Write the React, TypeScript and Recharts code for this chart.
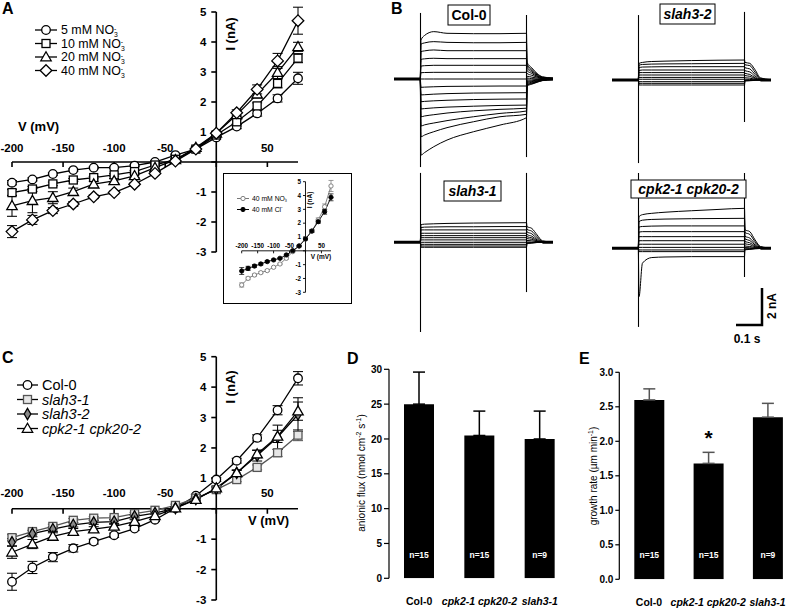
import React from "react";
import {
  LineChart,
  Line,
  BarChart,
  Bar,
  XAxis,
  YAxis,
  ReferenceLine,
  ReferenceDot,
  ErrorBar,
  LabelList,
} from "recharts";

const FONT = "'Liberation Sans', Arial, Helvetica, sans-serif";

// clamp steps (mV) shared by every I/V curve
const VOLTAGES = [-200, -180, -160, -140, -120, -100, -80, -60, -40, -20, 0, 20, 40, 60, 80];
const IV_X_TICKS = [-200, -150, -100, -50, 0, 50];
const IV_Y_TICKS = [-3, -2, -1, 0, 1, 2, 3, 4, 5];

// A: whole-cell currents (nA) with increasing external nitrate
const A_LABELS = ["5 mM", "10 mM", "20 mM", "40 mM"];
const A_NO3_5 = [-0.69, -0.58, -0.4, -0.27, -0.19, -0.19, -0.12, 0.0, 0.23, 0.43, 0.82, 1.18, 1.62, 2.12, 2.79];
const A_NO3_5_ERR = [0.07, 0.05, 0.04, 0.04, 0.03, 0.03, 0.03, 0.03, 0.03, 0.03, 0.05, 0.07, 0.09, 0.12, 0.2];
const A_NO3_10 = [-1.02, -0.9, -0.73, -0.6, -0.52, -0.43, -0.32, -0.1, 0.09, 0.43, 0.9, 1.34, 1.87, 2.62, 3.46];
const A_NO3_10_ERR = [0.1, 0.08, 0.06, 0.05, 0.04, 0.04, 0.04, 0.03, 0.03, 0.03, 0.05, 0.07, 0.1, 0.15, 0.15];
const A_NO3_20 = [-1.46, -1.29, -1.19, -0.99, -0.74, -0.63, -0.46, -0.19, 0.07, 0.48, 0.96, 1.57, 2.26, 2.98, 3.84];
const A_NO3_20_ERR = [0.35, 0.4, 0.2, 0.12, 0.1, 0.08, 0.06, 0.05, 0.04, 0.04, 0.06, 0.08, 0.12, 0.2, 0.15];
const A_NO3_40 = [-2.32, -1.93, -1.62, -1.4, -1.16, -1.02, -0.74, -0.38, 0.03, 0.43, 0.96, 1.64, 2.42, 3.37, 4.71];
const A_NO3_40_ERR = [0.2, 0.15, 0.1, 0.08, 0.06, 0.05, 0.05, 0.04, 0.04, 0.04, 0.06, 0.1, 0.15, 0.25, 0.45];

// A inset: nitrate vs chloride at 40 mM
const INSET_LABELS = ["40 mM NO", "40 mM Cl"];
const INSET_NO3 = [-2.47, -1.99, -1.75, -1.58, -1.43, -1.19, -0.95, -0.54, -0.06, 0.35, 0.86, 1.43, 2.23, 3.19, 4.69];
const INSET_NO3_ERR = [0.15, 0.1, 0.08, 0.07, 0.06, 0.05, 0.05, 0.05, 0.05, 0.05, 0.06, 0.1, 0.15, 0.2, 0.4];
const INSET_CL = [-1.46, -1.27, -1.1, -0.95, -0.78, -0.66, -0.54, -0.3, 0.01, 0.35, 0.86, 1.43, 2.11, 2.83, 3.87];
const INSET_CL_ERR = [0.25, 0.15, 0.1, 0.08, 0.07, 0.06, 0.05, 0.05, 0.05, 0.05, 0.06, 0.1, 0.12, 0.18, 0.25];

// C: genotypes
const C_LABELS = ["Col-0", "slah3-1", "slah3-2", "cpk2-1 cpk20-2"];
const C_COL0 = [-2.4, -1.93, -1.59, -1.3, -1.08, -0.87, -0.65, -0.36, 0.02, 0.43, 0.96, 1.58, 2.33, 3.24, 4.29];
const C_COL0_ERR = [0.28, 0.2, 0.15, 0.12, 0.08, 0.07, 0.06, 0.05, 0.04, 0.04, 0.06, 0.08, 0.1, 0.15, 0.22];
const C_SLAH31 = [-0.95, -0.75, -0.58, -0.38, -0.31, -0.29, -0.16, -0.05, 0.11, 0.35, 0.63, 0.96, 1.36, 1.84, 2.42];
const C_SLAH31_ERR = [0.1, 0.08, 0.07, 0.06, 0.05, 0.05, 0.04, 0.04, 0.04, 0.04, 0.05, 0.07, 0.08, 0.12, 0.18];
const C_SLAH32 = [-1.1, -0.82, -0.67, -0.53, -0.45, -0.42, -0.25, -0.14, 0.02, 0.32, 0.65, 1.18, 1.75, 2.35, 3.1];
const C_SLAH32_ERR = [0.12, 0.1, 0.08, 0.07, 0.06, 0.06, 0.05, 0.04, 0.04, 0.04, 0.06, 0.1, 0.18, 0.4, 0.55];
const C_CPK = [-1.43, -1.16, -0.91, -0.75, -0.67, -0.58, -0.42, -0.23, 0.02, 0.3, 0.68, 1.18, 1.8, 2.38, 3.21];
const C_CPK_ERR = [0.2, 0.15, 0.12, 0.1, 0.08, 0.07, 0.06, 0.05, 0.04, 0.04, 0.06, 0.08, 0.12, 0.2, 0.3];

// B: current traces (nA); sample times (s), first two are the holding period
const TRACE_TIMES = [-0.1, -0.001, 0.002, 0.015, 0.05, 0.1, 0.2, 0.3, 0.4, 0.402, 0.42, 0.44, 0.46, 0.5];
const HOLDING = [0, 0];
const COL0_TRACES = [
  [2.11, 2.35, 2.56, 2.47, 2.45, 2.45, 2.47, 0.9, 0.6, 0.3, 0.12, 0.05],
  [1.89, 1.95, 2.02, 1.98, 1.96, 1.96, 1.98, 0.8, 0.52, 0.26, 0.1, 0.04],
  [1.48, 1.52, 1.57, 1.53, 1.53, 1.53, 1.53, 0.7, 0.45, 0.22, 0.08, 0.03],
  [1.06, 1.09, 1.12, 1.1, 1.1, 1.1, 1.1, 0.58, 0.38, 0.18, 0.06, 0.02],
  [0.7, 0.72, 0.74, 0.74, 0.74, 0.74, 0.74, 0.45, 0.3, 0.14, 0.05, 0.02],
  [0.34, 0.35, 0.36, 0.36, 0.36, 0.36, 0.36, 0.3, 0.2, 0.1, 0.04, 0.01],
  [0, 0, 0, 0, 0, 0, 0, 0.15, 0.1, 0.05, 0.02, 0],
  [-0.45, -0.44, -0.42, -0.4, -0.39, -0.38, -0.38, 0.05, 0.02, 0, 0, 0],
  [-0.86, -0.85, -0.82, -0.79, -0.76, -0.75, -0.74, -0.05, -0.05, -0.03, -0.02, 0],
  [-1.23, -1.21, -1.18, -1.15, -1.11, -1.09, -1.08, -0.12, -0.1, -0.06, -0.03, -0.01],
  [-1.62, -1.6, -1.56, -1.52, -1.47, -1.43, -1.41, -0.18, -0.14, -0.09, -0.05, -0.02],
  [-2.04, -2.0, -1.93, -1.84, -1.72, -1.64, -1.58, -0.24, -0.18, -0.12, -0.06, -0.02],
  [-2.54, -2.48, -2.38, -2.25, -2.04, -1.86, -1.73, -0.3, -0.22, -0.14, -0.07, -0.03],
  [-3.12, -3.03, -2.85, -2.63, -2.31, -2.04, -1.91, -0.34, -0.25, -0.16, -0.08, -0.03],
  [-4.11, -3.98, -3.66, -3.3, -2.85, -2.49, -2.09, -0.38, -0.28, -0.18, -0.09, -0.04],
];
const SLAH32_TRACES = [
  [0.9, 0.95, 1.0, 1.02, 1.05, 1.07, 1.08, 0.95, 0.9, 0.55, 0.12, 0.02],
  [0.8, 0.84, 0.86, 0.87, 0.88, 0.89, 0.9, 0.82, 0.78, 0.42, 0.08, 0.01],
  [0.66, 0.7, 0.71, 0.72, 0.72, 0.72, 0.72, 0.66, 0.6, 0.3, 0.05, 0],
  [0.52, 0.54, 0.54, 0.54, 0.54, 0.54, 0.54, 0.5, 0.44, 0.2, 0.03, 0],
  [0.4, 0.4, 0.4, 0.4, 0.4, 0.4, 0.4, 0.36, 0.3, 0.12, 0.02, 0],
  [0.27, 0.27, 0.27, 0.27, 0.27, 0.27, 0.27, 0.24, 0.2, 0.08, 0.01, 0],
  [0.14, 0.14, 0.14, 0.14, 0.14, 0.14, 0.14, 0.12, 0.1, 0.04, 0, 0],
  [0.04, 0.04, 0.04, 0.04, 0.04, 0.04, 0.04, 0.04, 0.03, 0.01, 0, 0],
  [-0.09, -0.09, -0.09, -0.09, -0.09, -0.09, -0.09, -0.02, -0.02, 0, 0, 0],
  [-0.18, -0.18, -0.18, -0.18, -0.18, -0.18, -0.18, -0.04, -0.03, -0.01, 0, 0],
  [-0.27, -0.27, -0.27, -0.27, -0.27, -0.27, -0.27, -0.05, -0.04, -0.02, 0, 0],
];
const SLAH31_TRACES = [
  [0.95, 0.98, 1.0, 1.02, 1.04, 1.05, 1.06, 0.85, 0.75, 0.4, 0.08, 0],
  [0.8, 0.82, 0.83, 0.84, 0.84, 0.85, 0.85, 0.7, 0.6, 0.3, 0.05, 0],
  [0.67, 0.67, 0.67, 0.67, 0.67, 0.67, 0.67, 0.56, 0.46, 0.2, 0.03, 0],
  [0.49, 0.49, 0.49, 0.49, 0.49, 0.49, 0.49, 0.42, 0.33, 0.13, 0.02, 0],
  [0.36, 0.36, 0.36, 0.36, 0.36, 0.36, 0.36, 0.3, 0.24, 0.08, 0.01, 0],
  [0.25, 0.25, 0.25, 0.25, 0.25, 0.25, 0.25, 0.2, 0.16, 0.05, 0, 0],
  [0.13, 0.13, 0.13, 0.13, 0.13, 0.13, 0.13, 0.1, 0.08, 0.03, 0, 0],
  [0, 0, 0, 0, 0, 0, 0, 0.02, 0.01, 0, 0, 0],
  [-0.11, -0.11, -0.11, -0.11, -0.11, -0.11, -0.11, -0.03, -0.02, 0, 0, 0],
  [-0.2, -0.2, -0.2, -0.2, -0.2, -0.2, -0.2, -0.05, -0.03, -0.01, 0, 0],
  [-0.27, -0.27, -0.27, -0.27, -0.27, -0.27, -0.27, -0.06, -0.04, -0.01, 0, 0],
];
const CPK_TRACES = [
  [1.71, 1.82, 1.89, 1.95, 2.03, 2.1, 2.16, 1.0, 0.9, 0.45, 0.1, 0.01],
  [1.44, 1.52, 1.56, 1.58, 1.6, 1.61, 1.62, 0.85, 0.75, 0.35, 0.07, 0],
  [1.15, 1.18, 1.2, 1.21, 1.21, 1.21, 1.21, 0.65, 0.55, 0.25, 0.05, 0],
  [0.88, 0.9, 0.9, 0.9, 0.9, 0.9, 0.9, 0.5, 0.42, 0.18, 0.03, 0],
  [0.63, 0.63, 0.63, 0.63, 0.63, 0.63, 0.63, 0.36, 0.3, 0.12, 0.02, 0],
  [0.41, 0.41, 0.41, 0.41, 0.41, 0.41, 0.41, 0.24, 0.2, 0.08, 0.01, 0],
  [0.22, 0.22, 0.22, 0.22, 0.22, 0.22, 0.22, 0.12, 0.1, 0.04, 0, 0],
  [0.05, 0.05, 0.05, 0.05, 0.05, 0.05, 0.05, 0.04, 0.03, 0.01, 0, 0],
  [-0.09, -0.09, -0.09, -0.09, -0.09, -0.09, -0.09, -0.03, -0.02, 0, 0, 0],
  [-0.18, -0.18, -0.18, -0.18, -0.18, -0.18, -0.18, -0.05, -0.04, -0.01, 0, 0],
  [-2.61, -0.8, -0.5, -0.47, -0.45, -0.45, -0.45, -0.08, -0.06, -0.03, -0.01, 0],
];
// capacitive spikes at pulse on / off: [top, bottom] in nA
const COL0_CAP = [[3.57, -4.76], [3.46, -4.22]];
const SLAH32_CAP = [[3.51, -4.49], [3.68, -2.27]];
const SLAH31_CAP = [[3.75, -4.85], [3.75, -2.69]];
const CPK_CAP = [[4.07, -4.25], [4.07, -1.55]];

// D / E: bar charts (only the upper half of each error bar is shown)
const GENOTYPES = ["Col-0", "cpk2-1 cpk20-2", "slah3-1"];
const FLUX_MEAN = [25, 20.5, 20];
const FLUX_SEM = [4.6, 3.5, 4];
const FLUX_N = ["n=15", "n=15", "n=9"];
const GROWTH_MEAN = [2.6, 1.68, 2.35];
const GROWTH_SEM = [0.16, 0.16, 0.2];
const GROWTH_N = ["n=15", "n=15", "n=9"];
const GROWTH_SIG = ["", "*", ""];

function Marker({ shape, cx, cy, size = 1, fill = "#fff", stroke = "#000", sw = 1.2 }: any) {
  if (cx == null || cy == null) return null;
  const c = { fill, stroke, strokeWidth: sw };
  const s = size;
  if (shape === "circle") return <circle cx={cx} cy={cy} r={4.3 * s} {...c} />;
  if (shape === "dot") return <circle cx={cx} cy={cy} r={4.3 * s} {...c} />;
  if (shape === "square")
    return <rect x={cx - 4 * s} y={cy - 4 * s} width={8 * s} height={8 * s} {...c} />;
  if (shape === "triangle")
    return (
      <polygon
        points={`${cx},${cy - 5.3 * s} ${cx + 5.2 * s},${cy + 3.8 * s} ${cx - 5.2 * s},${cy + 3.8 * s}`}
        {...c}
      />
    );
  if (shape === "diamond")
    return (
      <polygon
        points={`${cx},${cy - 5.8 * s} ${cx + 5.8 * s},${cy} ${cx},${cy + 5.8 * s} ${cx - 5.8 * s},${cy}`}
        {...c}
      />
    );
  if (shape === "thinDiamond")
    return (
      <polygon
        points={`${cx},${cy - 5.6 * s} ${cx + 3.3 * s},${cy} ${cx},${cy + 5.6 * s} ${cx - 3.3 * s},${cy}`}
        {...c}
      />
    );
  return null;
}

const A_SERIES = [
  { key: "a5", values: A_NO3_5, err: A_NO3_5_ERR, shape: "circle" },
  { key: "a10", values: A_NO3_10, err: A_NO3_10_ERR, shape: "square" },
  { key: "a20", values: A_NO3_20, err: A_NO3_20_ERR, shape: "triangle" },
  { key: "a40", values: A_NO3_40, err: A_NO3_40_ERR, shape: "diamond" },
];
const INSET_SERIES = [
  { key: "no3", values: INSET_NO3, err: INSET_NO3_ERR, shape: "circle", stroke: "#777", fill: "#fff" },
  { key: "cl", values: INSET_CL, err: INSET_CL_ERR, shape: "dot", stroke: "#000", fill: "#000" },
];
const C_SERIES = [
  { key: "col", values: C_COL0, err: C_COL0_ERR, shape: "circle" },
  { key: "s31", values: C_SLAH31, err: C_SLAH31_ERR, shape: "square", stroke: "#555", fill: "#e6e6e6" },
  { key: "s32", values: C_SLAH32, err: C_SLAH32_ERR, shape: "thinDiamond", fill: "#888" },
  { key: "cpk", values: C_CPK, err: C_CPK_ERR, shape: "triangle" },
];

function IVPlot({ left, top, width, height, x200, x80, y5, ym3, series, font, tickLen, xGap, yGap, axisW, lineW, ms, errW }: any) {
  const kx = (x80 - x200) / 280;
  const ky = (ym3 - y5) / 8;
  const padX = 10;
  const padY = 0.35;
  const margin = {
    left: x200 - padX * kx - left,
    right: left + width - (x80 + padX * kx),
    top: y5 - padY * ky - top,
    bottom: top + height - (ym3 + padY * ky),
  };
  const data = VOLTAGES.map((v, i) => {
    const row: any = { v };
    series.forEach((s: any) => {
      row[s.key] = s.values[i];
      row[s.key + "E"] = s.err[i];
    });
    return row;
  });
  return (
    <div style={{ position: "absolute", left, top }}>
      <LineChart width={width} height={height} data={data} margin={margin}>
        <XAxis dataKey="v" type="number" domain={[-200 - padX, 80 + padX]} hide />
        <YAxis type="number" domain={[-3 - padY, 5 + padY]} hide />
        <ReferenceLine segment={[{ x: -200, y: 0 }, { x: 80, y: 0 }]} stroke="#000" strokeWidth={axisW} />
        <ReferenceLine segment={[{ x: 0, y: -3 }, { x: 0, y: 5 }]} stroke="#000" strokeWidth={axisW} />
        {IV_X_TICKS.map((t) => (
          <ReferenceDot
            key={"xt" + t}
            x={t}
            y={0}
            r={0}
            shape={(p: any) => (
              <g>
                <line x1={p.cx} y1={p.cy} x2={p.cx} y2={p.cy + tickLen} stroke="#000" strokeWidth={axisW} />
                {t !== 0 && (
                  <text x={p.cx} y={p.cy - xGap} textAnchor="middle" fontSize={font} fontWeight="bold" fontFamily={FONT}>
                    {t}
                  </text>
                )}
              </g>
            )}
          />
        ))}
        {IV_Y_TICKS.map((t) => (
          <ReferenceDot
            key={"yt" + t}
            x={0}
            y={t}
            r={0}
            shape={(p: any) => (
              <g>
                <line x1={p.cx - tickLen} y1={p.cy} x2={p.cx} y2={p.cy} stroke="#000" strokeWidth={axisW} />
                {t !== 0 && (
                  <text x={p.cx - yGap} y={p.cy + font * 0.36} textAnchor="end" fontSize={font} fontWeight="bold" fontFamily={FONT}>
                    {t}
                  </text>
                )}
              </g>
            )}
          />
        ))}
        {series.map((s: any) => (
          <Line
            key={s.key}
            dataKey={s.key}
            type="linear"
            stroke={s.stroke || "#000"}
            strokeWidth={lineW}
            isAnimationActive={false}
            dot={(p: any) => (
              <Marker
                key={s.key + p.index}
                shape={s.shape}
                cx={p.cx}
                cy={p.cy}
                size={ms}
                fill={s.fill || "#fff"}
                stroke={s.stroke || "#000"}
                sw={lineW}
              />
            )}
          >
            <ErrorBar dataKey={s.key + "E"} direction="y" width={errW} stroke={s.stroke || "#000"} strokeWidth={lineW * 0.8} />
          </Line>
        ))}
      </LineChart>
    </div>
  );
}

function TracePanel({ left, top, height, baseline, traces, cap }: any) {
  const pxPerS = 265;
  const pxPerNA = 18.5;
  const width = 0.6 * pxPerS;
  const yMax = (baseline - top) / pxPerNA;
  const yMin = -(top + height - baseline) / pxPerNA;
  const data = TRACE_TIMES.map((t, i) => {
    const row: any = { t, hold: i < 2 || i >= 12 ? 0 : null };
    traces.forEach((tr: number[], k: number) => {
      row["s" + k] = i < 2 ? HOLDING[i] : tr[i - 2];
    });
    return row;
  });
  return (
    <div style={{ position: "absolute", left, top }}>
      <LineChart width={width} height={height} data={data} margin={{ top: 0, right: 0, bottom: 0, left: 0 }}>
        <XAxis dataKey="t" type="number" domain={[-0.1, 0.5]} hide allowDataOverflow />
        <YAxis type="number" domain={[yMin, yMax]} hide allowDataOverflow />
        <ReferenceLine segment={[{ x: 0, y: cap[0][0] }, { x: 0, y: cap[0][1] }]} stroke="#000" strokeWidth={1.1} />
        <ReferenceLine segment={[{ x: 0.4, y: cap[1][0] }, { x: 0.4, y: cap[1][1] }]} stroke="#000" strokeWidth={1.1} />
        {traces.map((_: any, k: number) => (
          <Line
            key={k}
            dataKey={"s" + k}
            type="monotone"
            stroke="#000"
            strokeWidth={1}
            dot={false}
            isAnimationActive={false}
          />
        ))}
        <Line dataKey="hold" type="linear" stroke="#000" strokeWidth={3} dot={false} isAnimationActive={false} />
      </LineChart>
    </div>
  );
}

function CategoryTick(props: any) {
  const { x, y, payload } = props;
  const italic = payload.value !== "Col-0";
  return (
    <text
      x={x}
      y={y + 19}
      textAnchor="middle"
      fontSize={10.5}
      fontWeight="bold"
      fontStyle={italic ? "italic" : "normal"}
      fontFamily={FONT}
      fill="#000"
    >
      {payload.value}
    </text>
  );
}

function BarPanel({ left, top, data, yWidth, marginTop, marginRight, xHeight, domain, ticks, fmt, errColor, tickSize, tickMargin, nOffset }: any) {
  return (
    <div style={{ position: "absolute", left, top }}>
      <BarChart width={240} height={269} data={data} margin={{ top: marginTop, right: marginRight, bottom: 0, left: 0 }}>
        <XAxis dataKey="g" height={xHeight} axisLine={false} tickLine={false} interval={0} tick={<CategoryTick />} />
        <YAxis
          width={yWidth}
          domain={domain}
          ticks={ticks}
          allowDataOverflow
          tickFormatter={fmt}
          tickSize={tickSize}
          tickMargin={tickMargin}
          axisLine={{ stroke: "#000", strokeWidth: 1.2 }}
          tickLine={{ stroke: "#000", strokeWidth: 1.2 }}
          tick={{ fontSize: 10, fontWeight: "bold", fill: "#000", fontFamily: FONT }}
        />
        <Bar dataKey="mean" fill="#000" barSize={30} isAnimationActive={false}>
          <ErrorBar dataKey="sem" direction="y" width={6} stroke={errColor} strokeWidth={1.5} />
          <LabelList dataKey="n" position="insideBottom" offset={nOffset} fill="#fff" fontSize={8.5} fontWeight="bold" fontFamily={FONT} />
          <LabelList dataKey="sig" position="top" offset={18} fill="#000" fontSize={21} fontWeight="bold" fontFamily={FONT} />
        </Bar>
      </BarChart>
    </div>
  );
}

function No3({ size }: any) {
  return (
    <>
      <tspan dy={size * 0.22} fontSize={size * 0.55}>3</tspan>
      <tspan dx={-size * 0.31} dy={-size * 0.52} fontSize={size * 0.55}>-</tspan>
    </>
  );
}

function Overlay() {
  const bold = { fontFamily: FONT, fontWeight: "bold" as const, fill: "#000" };
  const aRows = [30, 43.5, 57, 70.5];
  const cRows = [385, 399.5, 414, 428.5];
  return (
    <svg width={790} height={609} style={{ position: "absolute", left: 0, top: 0, pointerEvents: "none" }}>
      {/* panel letters */}
      <text x={2} y={14} fontSize={16} {...bold}>A</text>
      <text x={391} y={14} fontSize={16} {...bold}>B</text>
      <text x={2} y={363} fontSize={16} {...bold}>C</text>
      <text x={347} y={364} fontSize={16} {...bold}>D</text>
      <text x={579} y={364} fontSize={16} {...bold}>E</text>

      {/* A axis titles and legend */}
      <text x={18} y={131} fontSize={13} {...bold}>V (mV)</text>
      <text transform="translate(235,34) rotate(-90)" textAnchor="middle" fontSize={13} {...bold}>I (nA)</text>
      {A_SERIES.map((s, i) => (
        <g key={s.key}>
          <line x1={35} x2={57} y1={aRows[i]} y2={aRows[i]} stroke="#000" strokeWidth={1.3} />
          <Marker shape={s.shape} cx={46} cy={aRows[i]} sw={1.3} />
          <text x={61} y={aRows[i] + 4.4} fontSize={12.4} fontFamily={FONT} fill="#000">
            {A_LABELS[i]} NO
            <No3 size={12.4} />
          </text>
        </g>
      ))}

      {/* inset labels */}
      <text x={321} y={259} textAnchor="middle" fontSize={6.5} {...bold}>V (mV)</text>
      <text transform="translate(312,200) rotate(-90)" textAnchor="middle" fontSize={6.5} {...bold}>I (nA)</text>
      {INSET_SERIES.map((s, i) => {
        const y = [198.5, 209.5][i];
        return (
          <g key={s.key}>
            <line x1={237} x2={249} y1={y} y2={y} stroke={s.stroke} strokeWidth={1} />
            <Marker shape={s.shape} cx={243} cy={y} size={0.5} fill={s.fill} stroke={s.stroke} sw={0.9} />
            <text x={252} y={y + 2.4} fontSize={6.8} fontFamily={FONT} fill="#000">
              {INSET_LABELS[i]}
              {i === 0 ? <No3 size={6.8} /> : <tspan dy={-2.8} fontSize={4.8}>-</tspan>}
            </text>
          </g>
        );
      })}

      {/* C axis titles and legend */}
      <text x={248} y={525} fontSize={13} {...bold}>V (mV)</text>
      <text transform="translate(235,387) rotate(-90)" textAnchor="middle" fontSize={13} {...bold}>I (nA)</text>
      {C_SERIES.map((s, i) => (
        <g key={s.key}>
          <line x1={17} x2={38} y1={cRows[i]} y2={cRows[i]} stroke="#000" strokeWidth={1.3} />
          <Marker shape={s.shape} cx={27.5} cy={cRows[i]} fill={s.fill || "#fff"} stroke={s.stroke || "#000"} sw={1.3} />
          <text x={42} y={cRows[i] + 5} fontSize={14.5} fontFamily={FONT} fontStyle={i === 0 ? "normal" : "italic"} fill="#000">
            {C_LABELS[i]}
          </text>
        </g>
      ))}

      {/* B genotype boxes */}
      <rect x={448} y={5} width={42} height={20} fill="#fff" stroke="#000" />
      <text x={469} y={20} textAnchor="middle" fontSize={14} {...bold}>Col-0</text>
      <rect x={660} y={4} width={55} height={20} fill="#fff" stroke="#000" />
      <text x={687.5} y={19} textAnchor="middle" fontSize={14} fontStyle="italic" {...bold}>slah3-2</text>
      <rect x={444} y={181} width={57} height={20} fill="#fff" stroke="#000" />
      <text x={472.5} y={196} textAnchor="middle" fontSize={14} fontStyle="italic" {...bold}>slah3-1</text>
      <rect x={631} y={180} width={115} height={18} fill="#fff" stroke="#000" />
      <text x={688.5} y={194} textAnchor="middle" fontSize={14} fontStyle="italic" {...bold}>cpk2-1 cpk20-2</text>

      {/* scale bar */}
      <polyline points="762,288 762,325 736,325" fill="none" stroke="#000" strokeWidth={2.5} />
      <text transform="translate(776,306) rotate(-90)" textAnchor="middle" fontSize={12} {...bold}>2 nA</text>
      <text x={747} y={343} textAnchor="middle" fontSize={12} {...bold}>0.1 s</text>

      {/* D / E axis titles */}
      <text transform="translate(365,473) rotate(-90)" textAnchor="middle" fontSize={10} fontFamily={FONT} fill="#000">
        anionic flux (nmol cm<tspan dy={-4} fontSize={7}>-2</tspan>
        <tspan dy={4}> s</tspan>
        <tspan dy={-4} fontSize={7}>-1</tspan>
        <tspan dy={4}>)</tspan>
      </text>
      <text transform="translate(597,476) rotate(-90)" textAnchor="middle" fontSize={10} fontFamily={FONT} fill="#000">
        growth rate (µm min<tspan dy={-4} fontSize={7}>-1</tspan>
        <tspan dy={4}>)</tspan>
      </text>
    </svg>
  );
}

export default function App() {
  // error as [below, above]: only the upper whisker shows above the bar
  const fluxData = GENOTYPES.map((g, i) => ({ g, mean: FLUX_MEAN[i], sem: [0, FLUX_SEM[i]], n: FLUX_N[i], sig: "" }));
  const growthData = GENOTYPES.map((g, i) => ({
    g,
    mean: GROWTH_MEAN[i],
    sem: [0, GROWTH_SEM[i]],
    n: GROWTH_N[i],
    sig: GROWTH_SIG[i],
  }));
  return (
    <div
      style={{
        position: "absolute",
        left: 0,
        top: 0,
        width: 790,
        height: 609,
        overflow: "hidden",
        background: "#fff",
        fontFamily: FONT,
      }}
    >
      <IVPlot left={0} top={0} width={320} height={275} x200={12} x80={298} y5={12} ym3={252}
        series={A_SERIES} font={11.5} tickLen={5} xGap={10.5} yGap={10} axisW={1.6} lineW={1.3} ms={1} errW={5} />
      <div style={{ position: "absolute", left: 223, top: 173, width: 127, height: 129, border: "1.3px solid #000", background: "#fff" }} />
      <IVPlot left={224} top={174} width={126} height={128} x200={241.7} x80={331} y5={181.7} ym3={292.3}
        series={INSET_SERIES} font={6.3} tickLen={2.5} xGap={3.2} yGap={4.5} axisW={0.9} lineW={0.9} ms={0.5} errW={2.5} />
      <IVPlot left={0} top={340} width={320} height={275} x200={12} x80={298} y5={356.7} ym3={600}
        series={C_SERIES} font={11.5} tickLen={5} xGap={11.5} yGap={10} axisW={1.6} lineW={1.3} ms={1} errW={5} />

      <TracePanel left={394.2} top={0} height={175} baseline={79} traces={COL0_TRACES} cap={COL0_CAP} />
      <TracePanel left={611.8} top={0} height={175} baseline={80} traces={SLAH32_TRACES} cap={SLAH32_CAP} />
      <TracePanel left={394.2} top={170} height={170} baseline={242.3} traces={SLAH31_TRACES} cap={SLAH31_CAP} />
      <TracePanel left={611.8} top={170} height={170} baseline={248.3} traces={CPK_TRACES} cap={CPK_CAP} />

      <BarPanel left={340} top={340} data={fluxData} yWidth={49} marginTop={29.3} marginRight={10} xHeight={30.7}
        domain={[0, 30]} ticks={[0, 5, 10, 15, 20, 25, 30]} fmt={(v: number) => String(v)} errColor="#000"
        tickSize={5} tickMargin={2} nOffset={20} />
      <BarPanel left={560} top={340} data={growthData} yWidth={59.3} marginTop={32.3} marginRight={2.8} xHeight={29.7}
        domain={[0, 3]} ticks={[0, 0.5, 1, 1.5, 2, 2.5, 3]} fmt={(v: number) => v.toFixed(1)} errColor="#555"
        tickSize={4} tickMargin={2} nOffset={21} />

      <Overlay />
    </div>
  );
}
